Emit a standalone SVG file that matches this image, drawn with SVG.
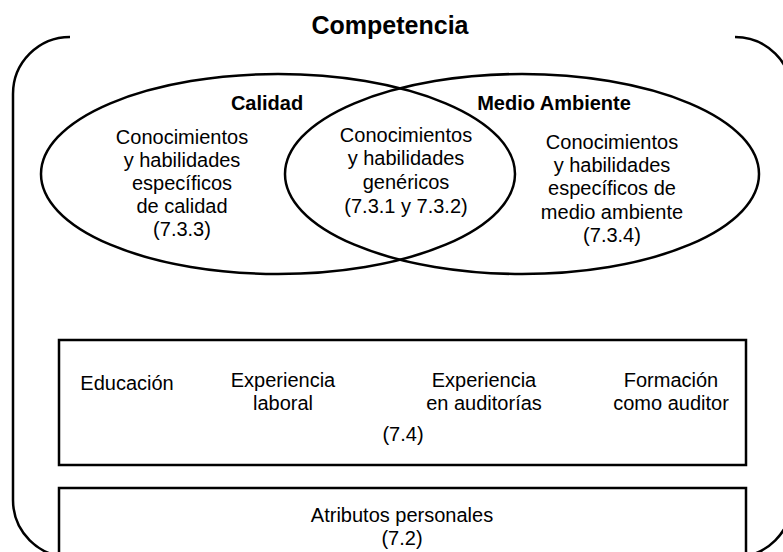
<svg xmlns="http://www.w3.org/2000/svg" width="783" height="552" viewBox="0 0 783 552">
<style>
.ln{fill:none;stroke:#000;stroke-width:2.5}
.t{font-family:"Liberation Sans",Arial,sans-serif;font-size:20px;fill:#000;text-anchor:middle}
.b{font-weight:bold}
</style>
<rect width="783" height="552" fill="#fff"/>
<g id="competencia">
<path class="ln" d="M70,37 A57,57 0 0 0 13,94 L13,500 A57,57 0 0 0 70,557"/>
<path class="ln" d="M735,37 A57,57 0 0 1 792,94 L792,500 A57,57 0 0 1 735,557"/>
<text class="t b" x="390" y="34" style="font-size:25px">Competencia</text>
</g>
<g id="calidad">
<ellipse class="ln" cx="278" cy="174" rx="237" ry="100"/>
<text class="t b" x="267" y="110">Calidad</text>
<text class="t" x="182"><tspan x="182" y="144">Conocimientos</tspan><tspan x="182" y="167">y habilidades</tspan><tspan x="182" y="190">específicos</tspan><tspan x="182" y="213">de calidad</tspan><tspan x="182" y="236">(7.3.3)</tspan></text>
</g>
<g id="medio-ambiente">
<ellipse class="ln" cx="522" cy="174" rx="237" ry="100"/>
<text class="t b" x="554" y="110">Medio Ambiente</text>
<text class="t" x="612"><tspan x="612" y="149">Conocimientos</tspan><tspan x="612" y="172">y habilidades</tspan><tspan x="612" y="195">específicos de</tspan><tspan x="612" y="219">medio ambiente</tspan><tspan x="612" y="242">(7.3.4)</tspan></text>
</g>
<g id="genericos">
<text class="t" x="406"><tspan x="406" y="142">Conocimientos</tspan><tspan x="406" y="165">y habilidades</tspan><tspan x="406" y="189">genéricos</tspan><tspan x="406" y="213">(7.3.1 y 7.3.2)</tspan></text>
</g>
<g id="educacion-experiencia">
<rect class="ln" x="59" y="340" width="687" height="125"/>
<text class="t" x="127" y="390">Educación</text>
<text class="t" x="283"><tspan x="283" y="387">Experiencia</tspan><tspan x="283" y="410">laboral</tspan></text>
<text class="t" x="484"><tspan x="484" y="387">Experiencia</tspan><tspan x="484" y="410">en auditorías</tspan></text>
<text class="t" x="671"><tspan x="671" y="387">Formación</tspan><tspan x="671" y="410">como auditor</tspan></text>
<text class="t" x="403" y="441">(7.4)</text>
</g>
<g id="atributos">
<rect class="ln" x="59" y="488" width="687" height="80"/>
<text class="t" x="402"><tspan x="402" y="522">Atributos personales</tspan><tspan x="402" y="545">(7.2)</tspan></text>
</g>
<g id="connectors"/>
</svg>
